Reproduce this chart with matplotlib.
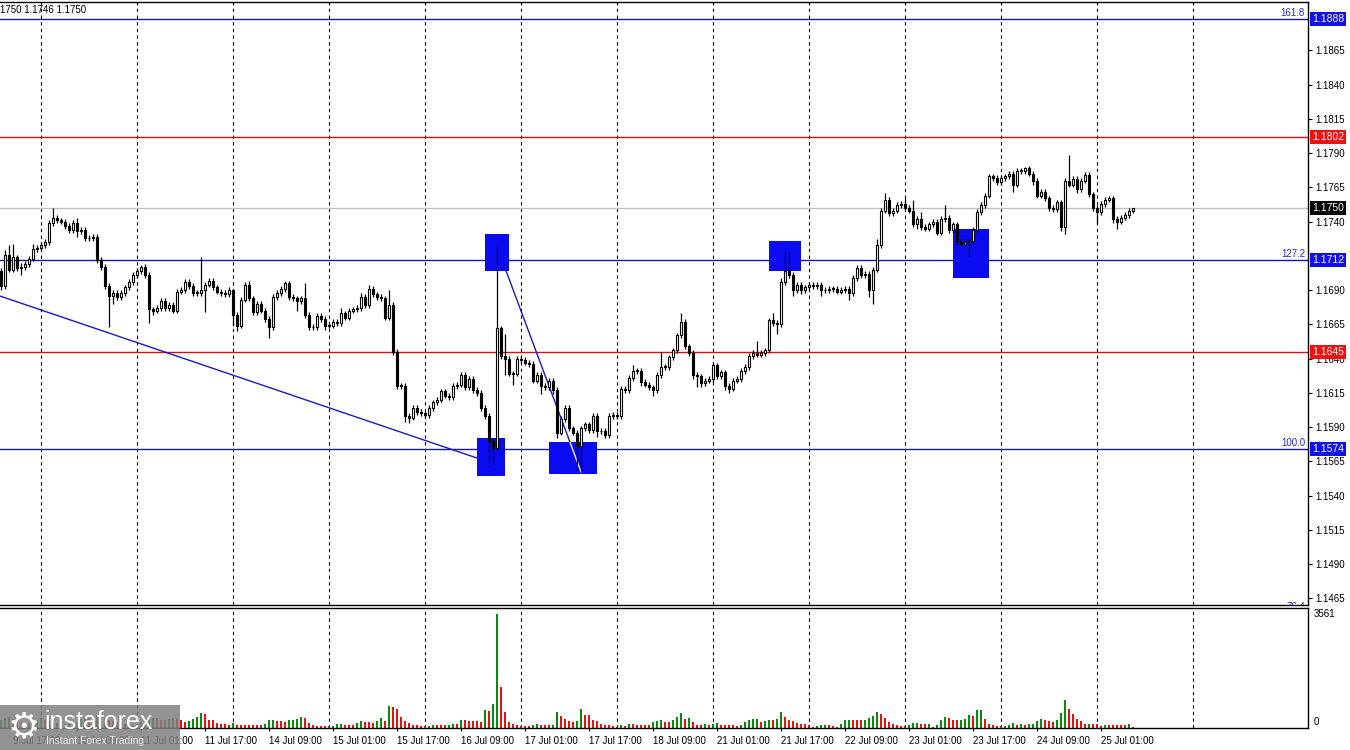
import matplotlib
matplotlib.use("Agg")
import matplotlib.pyplot as plt
import matplotlib.transforms as mtrans
from matplotlib.patches import Rectangle
import numpy as np

plt.rcParams['font.family'] = ['Liberation Sans', 'DejaVu Sans']

# ---------------- data ----------------
BASE = 1.1500          # prices below are given in pips above this base
first_open_pips = 204

close_pips = [
    193, 216, 205, 214, 206, 207, 209, 213, 220, 221, 223, 225, 239, 243, 241, 240, 237, 234, 239, 233,
    234, 228, 228, 229, 212, 207, 193, 186, 188, 185, 188, 192, 196, 201, 204, 207, 201, 176, 175, 177,
    182, 177, 179, 175, 189, 190, 196, 193, 188, 188, 190, 194, 197, 192, 189, 188, 187, 190, 172, 164,
    183, 194, 184, 174, 180, 175, 169, 163, 185, 188, 191, 195, 185, 184, 182, 184, 172, 163, 163, 171,
    169, 164, 164, 167, 166, 173, 170, 175, 176, 177, 185, 179, 191, 187, 185, 184, 170, 179, 145, 120,
    120, 98, 97, 104, 101, 100, 99, 104, 108, 110, 116, 113, 112, 120, 121, 128, 119, 125, 117, 115,
    104, 98, 80, 75, 162, 142, 140, 129, 129, 140, 139, 137, 136, 124, 128, 120, 119, 124, 117, 86,
    96, 104, 89, 86, 76, 89, 92, 88, 98, 87, 87, 84, 98, 99, 98, 118, 117, 126, 131, 131,
    123, 121, 119, 117, 128, 134, 134, 141, 146, 157, 167, 149, 144, 128, 127, 122, 124, 125, 135, 127,
    130, 120, 118, 124, 125, 131, 134, 142, 144, 143, 144, 146, 168, 166, 165, 196, 204, 201, 190, 194,
    190, 192, 194, 193, 194, 190, 190, 191, 191, 189, 190, 191, 188, 199, 206, 201, 202, 190, 205, 223,
    248, 256, 246, 248, 252, 253, 250, 248, 238, 242, 236, 235, 238, 240, 232, 242, 243, 234, 238, 226,
    224, 225, 226, 234, 247, 252, 259, 273, 272, 269, 272, 273, 275, 267, 277, 277, 279, 275, 270, 259,
    262, 257, 250, 249, 254, 236, 270, 267, 271, 264, 270, 274, 260, 250, 247, 253, 256, 257, 242, 240,
    243, 245, 248, 250,
]

up_wick_pips = [
    2, 3, 7, 10, 2, 3, 2, 2, 4, 2, 2, 2, 2, 7, 2, 2, 2, 2, 2, 4,
    2, 2, 2, 2, 2, 2, 2, 2, 2, 2, 2, 2, 2, 2, 2, 1, 2, 2, 2, 2,
    2, 2, 2, 2, 2, 2, 2, 2, 2, 2, 24, 2, 2, 2, 2, 2, 2, 2, 0, 2,
    2, 2, 3, 2, 2, 2, 2, 2, 2, 2, 2, 2, 2, 2, 2, 2, 11, 2, 2, 2,
    2, 2, 2, 2, 2, 4, 2, 2, 2, 2, 3, 2, 3, 2, 2, 2, 2, 11, 2, 2,
    2, 2, 2, 2, 2, 2, 2, 2, 2, 2, 2, 2, 2, 2, 2, 2, 2, 2, 2, 2,
    2, 2, 2, 2, 60, 2, 16, 2, 2, 2, 2, 2, 2, 2, 2, 2, 2, 2, 2, 2,
    2, 2, 2, 2, 2, 2, 2, 2, 2, 2, 2, 2, 2, 2, 2, 2, 2, 2, 4, 2,
    2, 2, 2, 2, 2, 11, 2, 2, 2, 2, 6, 2, 2, 2, 2, 2, 2, 2, 2, 2,
    2, 2, 2, 2, 2, 2, 2, 2, 2, 9, 2, 2, 2, 5, 2, 3, 14, 14, 2, 2,
    2, 2, 2, 2, 2, 2, 2, 2, 2, 2, 2, 2, 2, 2, 2, 2, 2, 2, 2, 4,
    2, 5, 2, 2, 2, 2, 4, 2, 8, 2, 5, 2, 2, 2, 2, 2, 9, 2, 2, 2,
    2, 2, 2, 2, 2, 2, 2, 2, 2, 2, 2, 2, 2, 2, 2, 2, 1, 2, 2, 2,
    2, 2, 2, 2, 2, 2, 2, 19, 2, 2, 2, 2, 2, 2, 2, 2, 2, 2, 2, 2,
    2, 2, 2, 0,
]

dn_wick_pips = [
    3, 2, 2, 2, 2, 5, 2, 2, 2, 2, 2, 2, 2, 2, 2, 2, 2, 2, 2, 4,
    2, 2, 2, 2, 2, 2, 2, 23, 6, 2, 2, 2, 2, 2, 2, 2, 2, 10, 3, 2,
    2, 2, 2, 2, 2, 2, 2, 2, 2, 2, 2, 16, 2, 2, 2, 2, 2, 2, 8, 4,
    2, 2, 2, 2, 2, 2, 2, 8, 2, 2, 2, 2, 2, 2, 7, 2, 2, 2, 2, 2,
    2, 3, 2, 2, 2, 2, 2, 2, 2, 2, 2, 2, 2, 2, 2, 2, 2, 2, 2, 2,
    2, 4, 4, 2, 2, 2, 2, 2, 2, 2, 2, 2, 2, 2, 2, 2, 2, 2, 2, 2,
    2, 2, 15, 13, 2, 2, 12, 2, 8, 2, 2, 2, 2, 2, 2, 6, 2, 2, 3, 4,
    2, 2, 2, 2, 18, 18, 2, 2, 2, 4, 2, 2, 2, 2, 2, 2, 2, 2, 2, 2,
    3, 2, 2, 4, 2, 2, 2, 2, 2, 2, 2, 2, 2, 3, 8, 3, 2, 2, 2, 2,
    2, 3, 3, 2, 2, 2, 2, 2, 2, 2, 2, 2, 2, 2, 7, 2, 2, 2, 4, 2,
    3, 2, 2, 2, 2, 4, 2, 2, 2, 2, 2, 2, 5, 2, 2, 2, 2, 5, 10, 2,
    2, 2, 2, 2, 2, 2, 2, 2, 2, 3, 2, 2, 2, 2, 2, 2, 2, 2, 2, 3,
    2, 2, 10, 2, 2, 2, 2, 2, 2, 2, 2, 2, 2, 5, 2, 2, 2, 2, 3, 2,
    2, 2, 2, 2, 2, 3, 5, 2, 2, 3, 2, 2, 2, 2, 8, 2, 2, 2, 3, 5,
    2, 2, 2, 2,
]

volume = [
    250, 300, 350, 280, 220, 180, 150, 160, 200, 240, 300, 260, 220, 180, 150, 120, 110, 130, 160, 200,
    280, 350, 300, 260, 420, 380, 300, 260, 220, 180, 150, 130, 110, 100, 120, 180, 220, 280, 320, 300,
    260, 240, 280, 320, 300, 250, 200, 230, 280, 330, 470, 430, 260, 240, 170, 110, 110, 100, 170, 100,
    100, 100, 100, 100, 100, 100, 110, 250, 260, 230, 220, 200, 240, 260, 270, 330, 300, 170, 100, 70,
    70, 60, 60, 70, 130, 140, 100, 100, 80, 150, 230, 200, 200, 170, 220, 300, 230, 700, 650, 580,
    330, 220, 170, 100, 80, 60, 50, 70, 100, 100, 100, 80, 100, 130, 130, 260, 260, 230, 230, 210,
    180, 570, 540, 750, 3561, 1280, 490, 190, 135, 90, 70, 70, 70, 100, 130, 100, 100, 80, 100, 490,
    385, 290, 210, 190, 210, 600, 415, 395, 240, 230, 135, 100, 80, 70, 40, 100, 70, 135, 125, 100,
    100, 100, 100, 190, 230, 260, 190, 180, 260, 340, 470, 290, 310, 180, 100, 100, 135, 100, 110, 150,
    90, 90, 90, 80, 70, 100, 180, 250, 270, 280, 190, 230, 260, 260, 280, 510, 350, 260, 230, 150,
    120, 110, 100, 30, 50, 80, 100, 90, 60, 30, 120, 240, 260, 250, 240, 240, 260, 300, 360, 500,
    440, 300, 200, 120, 100, 60, 60, 100, 150, 160, 140, 130, 140, 20, 80, 250, 330, 300, 250, 250,
    260, 290, 420, 380, 560, 570, 270, 135, 100, 70, 50, 70, 100, 160, 100, 110, 90, 110, 140, 210,
    290, 260, 210, 180, 260, 470, 880, 590, 450, 290, 210, 110, 130, 130, 110, 70, 100, 100, 90, 90,
    80, 80, 110, 20,
]
volume_max_label = 3561

time_labels = ["9 Jul 17:00", "10 Jul 09:00", "11 Jul 01:00", "11 Jul 17:00", "14 Jul 09:00",
               "15 Jul 01:00", "15 Jul 17:00", "16 Jul 09:00", "17 Jul 01:00", "17 Jul 17:00",
               "18 Jul 09:00", "21 Jul 01:00", "21 Jul 17:00", "22 Jul 09:00", "23 Jul 01:00",
               "23 Jul 17:00", "24 Jul 09:00", "25 Jul 01:00"]
label_first_bar, label_step = 3, 16
day_first_bar, day_step, n_days = 10, 24, 13

price_ticks = [1.1465, 1.1490, 1.1515, 1.1540, 1.1565, 1.1590, 1.1615, 1.1640, 1.1665, 1.1690,
               1.1740, 1.1765, 1.1790, 1.1815, 1.1840, 1.1865]

level_prices = [1.1888, 1.1802, 1.1750, 1.1712, 1.1645, 1.1574]
level_kinds = ['blue', 'red', 'bid', 'blue', 'red', 'blue']
fib_names = ["161.8", "127.2", "100.0", "76.4"]
fib_prices = [1.1888, 1.1712, 1.1574, 1.1454]

# signal boxes (bar index range, price range)
box_bar0 = [121.0, 119.1, 137.1, 192.0, 238.1]
box_bar1 = [127.0, 126.0, 149.0, 200.0, 247.0]
box_lo = [1.17042, 1.15545, 1.15560, 1.17042, 1.16991]
box_hi = [1.17310, 1.15823, 1.15793, 1.17259, 1.17346]

# trend lines (bar index, price)
trend1 = [(-0.25, 1.16857), (119.0, 1.15674)]
trend2 = [(126.25, 1.17042), (145.0, 1.15574)]

header_text = "1750 1.1746 1.1750"

# ---------------- figure ----------------
W, H = 1350, 750
fig = plt.figure(figsize=(W / 100, H / 100), dpi=100)
fig.patch.set_facecolor('white')

ax = fig.add_axes([0, (H - 605) / H, 1308 / W, (605 - 2) / H])
axv = fig.add_axes([0, (H - 728) / H, 1308 / W, (728 - 608) / H])

n = len(close_pips)
x = np.arange(n)
close = BASE + np.array(close_pips) / 1e4
opens = BASE + np.array([first_open_pips] + close_pips[:-1]) / 1e4
highs = np.maximum(opens, close) + np.array(up_wick_pips) / 1e4
lows = np.minimum(opens, close) - np.array(dn_wick_pips) / 1e4

xmin, xmax = -0.25, 326.75
for a in (ax, axv):
    a.set_xlim(xmin, xmax)
    a.spines['left'].set_visible(False)
    for s in ('top', 'right', 'bottom'):
        a.spines[s].set_linewidth(1.0)
        a.spines[s].set_color('black')

ax.set_ylim(1.14601, 1.19004)

# grid (daily separators)
for k in range(n_days):
    gx = day_first_bar + day_step * k
    for a in (ax, axv):
        a.axvline(gx, color='black', lw=0.8, ls=(0, (3, 3)), zorder=1)

# horizontal levels
col = {'blue': '#1616a8', 'red': '#d01414', 'bid': '#c0c0c0'}
box_col = {'blue': '#1010e8', 'red': '#ee1111', 'bid': '#000000'}
for p, k in zip(level_prices, level_kinds):
    ax.axhline(p, color=col[k], lw=1.0, zorder=1.6)

# signal boxes (behind candles)
boxC_patch = None
for j, (b0, b1, lo, hi) in enumerate(zip(box_bar0, box_bar1, box_lo, box_hi)):
    r = Rectangle((b0, lo), b1 - b0, hi - lo, facecolor='#0b0bf2', edgecolor='none', zorder=1.8)
    ax.add_patch(r)
    if j == 2:
        boxC_patch = r

# trend lines
ax.plot([trend1[0][0], trend1[1][0]], [trend1[0][1], trend1[1][1]], color='#1a1ac8', lw=1.0, zorder=2)
ax.plot([trend2[0][0], trend2[1][0]], [trend2[0][1], trend2[1][1]], color='#1a1ac8', lw=1.0, zorder=2)
wl, = ax.plot([trend2[0][0], trend2[1][0]], [trend2[0][1], trend2[1][1]], color='#f0f0ff', lw=1.0, zorder=2.1)
wl.set_clip_path(boxC_patch)

# candles
ax.vlines(x, lows, highs, color='black', lw=0.9, zorder=3)
body_bot = np.minimum(opens, close)
body_h = np.maximum(np.abs(close - opens), 0.00004)
face = ['white' if c >= o else 'black' for o, c in zip(opens, close)]
ax.bar(x, body_h, bottom=body_bot, width=0.6, color=face, edgecolor='black', linewidth=0.8, zorder=3.2)

# right price axis
ax.yaxis.tick_right()
ax.set_yticks(price_ticks)
ax.set_yticklabels([f"{t:.4f}" for t in price_ticks])
ax.tick_params(axis='y', direction='out', length=3, width=0.8, labelsize=7, pad=2, colors='black')
ax.set_xticks([])

ytr = mtrans.blended_transform_factory(ax.transAxes, ax.transData)
for p, k in zip(level_prices, level_kinds):
    ax.text(1.0 + 4 / 1308, p, f"{p:.4f}", transform=ytr, ha='left', va='center', fontsize=7.5,
            color='white', zorder=10, clip_on=False,
            bbox=dict(boxstyle='square,pad=0.2', fc=box_col[k], ec='none'))

for name, p in zip(fib_names, fib_prices):
    ax.text(1.0 - 3 / 1308, p + 0.00008, name, transform=ytr, ha='right', va='bottom', fontsize=7,
            color='#2a2ad0', zorder=5, clip_on=True)

fig.text(0, 1 - 10 / H, header_text, fontsize=7, va='center', ha='left', color='black')

# volume panel
vcol = ['#0a8a0a' if (i > 0 and volume[i] > volume[i - 1]) or i == 0 else '#e81010' for i in range(n)]
axv.bar(x, volume, width=0.7, color=vcol, linewidth=0, zorder=2)
axv.set_ylim(0, 3750)
axv.set_yticks([])
fig.text(1314 / W, 1 - 614 / H, str(volume_max_label), ha='left', va='center', fontsize=7)
fig.text(1314 / W, 1 - 722 / H, "0", ha='left', va='center', fontsize=7)

lab_pos = [label_first_bar + label_step * k for k in range(len(time_labels))]
axv.set_xticks(lab_pos)
axv.set_xticklabels(time_labels, ha='left', fontsize=7)
axv.tick_params(axis='x', direction='out', length=2, width=0.8, pad=4)

# watermark
fig.patches.append(Rectangle((0, 0), 180 / W, 45 / H, transform=fig.transFigure,
                             facecolor='#808080', alpha=0.85, edgecolor='none', zorder=20))
fig.text(24 / W, 1 - 727 / H, "\u2699", fontsize=26, color='white', ha='center', va='center',
         family='DejaVu Sans', zorder=21)
fig.text(44 / W, 1 - 722 / H, "instaforex", fontsize=18, color='white', ha='left', va='center', zorder=21)
fig.text(46 / W, 1 - 741 / H, "Instant Forex Trading", fontsize=7.5, color='#e8e8e8', ha='left',
         va='center', zorder=21)

fig.savefig("out.png", dpi=100)
